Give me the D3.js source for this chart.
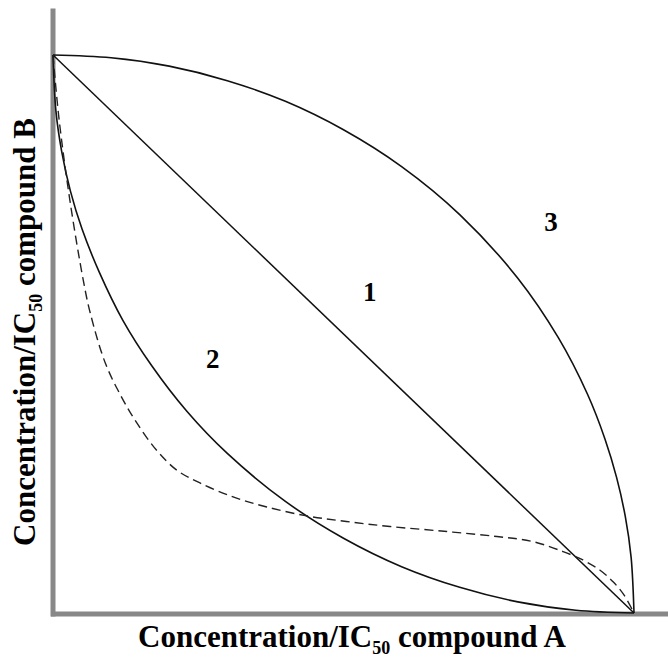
<!DOCTYPE html>
<html>
<head>
<meta charset="utf-8">
<script src="https://cdn.jsdelivr.net/npm/d3@7"></script>
<style>
  html, body { margin: 0; padding: 0; background: #fff; }
  svg { display: block; }
  .lbl { font-family: "Liberation Serif", "Times New Roman", serif; font-weight: bold; fill: #000; }
</style>
</head>
<body>
<script>
// ---- data (normalized Concentration/IC50 units) ----
const line1X = [0, 1];
const line1Y = [1, 0];

// curve 3 (antagonism, convex)
const curve3X = [0, 0.1, 0.2, 0.3, 0.4, 0.5, 0.6, 0.7, 0.8, 0.87, 0.92, 0.95, 0.97, 0.985, 0.995, 1];
const curve3Y = [1, 0.995, 0.98, 0.954, 0.917, 0.866, 0.8, 0.714, 0.6, 0.493, 0.392, 0.312, 0.243, 0.173, 0.1, 0];

// curve 2 (synergy, concave)
const curve2X = [0, 0.005, 0.015, 0.03, 0.05, 0.08, 0.12, 0.17, 0.23, 0.3, 0.4, 0.5, 0.6, 0.7, 0.8, 0.9, 1];
const curve2Y = [1, 0.9, 0.827, 0.756, 0.688, 0.61, 0.525, 0.443, 0.362, 0.286, 0.2, 0.134, 0.083, 0.046, 0.02, 0.005, 0];

// dashed curve
const dashX = [0, 0.01, 0.029, 0.052, 0.064, 0.09, 0.118, 0.144, 0.178, 0.213, 0.253, 0.31, 0.368, 0.437, 0.505, 0.58, 0.678, 0.764, 0.826, 0.878, 0.912, 0.941, 0.964, 0.983, 1];
const dashY = [1, 0.889, 0.74, 0.597, 0.538, 0.448, 0.387, 0.341, 0.292, 0.256, 0.233, 0.208, 0.19, 0.174, 0.164, 0.155, 0.146, 0.137, 0.128, 0.11, 0.095, 0.077, 0.056, 0.032, 0];

// region labels
const regionLabels = ["1", "2", "3"];
const regionX = [0.545, 0.275, 0.857];
const regionY = [0.575, 0.455, 0.7];

const xTitle = "Concentration/IC";
const yTitle = "Concentration/IC";
const sub = "50";
const xTitleEnd = " compound A";
const yTitleEnd = " compound B";

// ---- layout ----
const W = 668, H = 657;
const svg = d3.select("body").append("svg").attr("width", W).attr("height", H);

const x = d3.scaleLinear().domain([0, 1]).range([53, 634]);
const y = d3.scaleLinear().domain([0, 1]).range([613, 55]);

// frame axes (extended beyond data range)
const xFrame = d3.scaleLinear().domain([0, 1]).range([50.5, 668]);
const yFrame = d3.scaleLinear().domain([0, 1]).range([616, 8]);

svg.append("g").attr("transform", "translate(0,613.5)")
  .call(d3.axisBottom(xFrame).tickValues([]).tickSizeOuter(0));
svg.append("g").attr("transform", "translate(52.5,0)")
  .call(d3.axisLeft(yFrame).tickValues([]).tickSizeOuter(0));
svg.selectAll(".domain").attr("stroke", "#888").attr("stroke-width", 5);

const line = d3.line().x(d => x(d[0])).y(d => y(d[1]));
const smooth = d3.line().x(d => x(d[0])).y(d => y(d[1])).curve(d3.curveCatmullRom.alpha(0.5));

function pts(xs, ys) { return xs.map((v, i) => [v, ys[i]]); }

svg.append("path").datum(pts(line1X, line1Y)).attr("d", line)
  .attr("fill", "none").attr("stroke", "#111").attr("stroke-width", 1.5);
svg.append("path").datum(pts(curve3X, curve3Y)).attr("d", smooth)
  .attr("fill", "none").attr("stroke", "#111").attr("stroke-width", 1.6);
svg.append("path").datum(pts(curve2X, curve2Y)).attr("d", smooth)
  .attr("fill", "none").attr("stroke", "#111").attr("stroke-width", 1.6);
svg.append("path").datum(pts(dashX, dashY)).attr("d", smooth)
  .attr("fill", "none").attr("stroke", "#222").attr("stroke-width", 1.4)
  .attr("stroke-dasharray", "9,5");

svg.selectAll(".region").data(regionLabels).enter().append("text")
  .attr("class", "lbl")
  .attr("x", (d, i) => x(regionX[i]))
  .attr("y", (d, i) => y(regionY[i]))
  .attr("text-anchor", "middle")
  .attr("dominant-baseline", "central")
  .attr("font-size", 27)
  .text(d => d);

// axis titles
function title(sel, main, end) {
  sel.append("tspan").text(main);
  sel.append("tspan").attr("font-size", 18).attr("dy", 7).text(sub);
  sel.append("tspan").attr("dy", -7).text(end);
}
const tx = svg.append("text").attr("class", "lbl")
  .attr("x", 352).attr("y", 647).attr("text-anchor", "middle").attr("font-size", 31);
title(tx, xTitle, xTitleEnd);

const ty = svg.append("text").attr("class", "lbl")
  .attr("transform", "translate(35,332) rotate(-90)")
  .attr("text-anchor", "middle").attr("font-size", 31);
title(ty, yTitle, yTitleEnd);
</script>
</body>
</html>
